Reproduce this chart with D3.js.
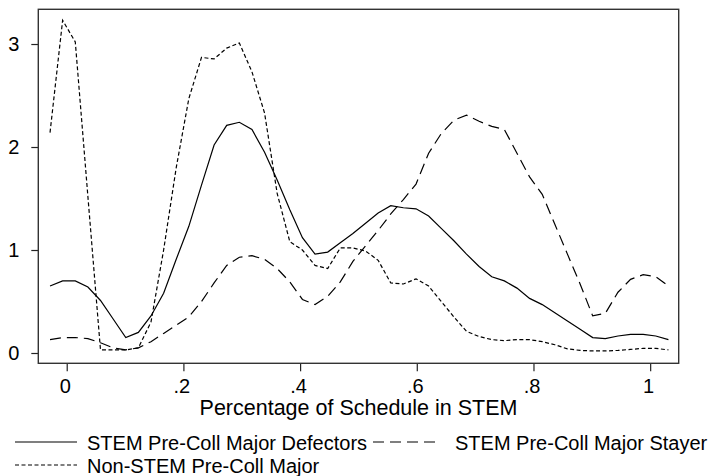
<!DOCTYPE html>
<html>
<head>
<meta charset="utf-8">
<script src="https://cdn.jsdelivr.net/npm/d3@7"></script>
<style>
  html, body { margin: 0; padding: 0; background: #fff; }
  svg { display: block; font-family: "Liberation Sans", Arial, Helvetica, sans-serif; }
</style>
</head>
<body>
<svg id="chart" width="712" height="476"></svg>
<script>
// ---- data ----
const xGrid = [-0.0286,-0.0070,0.0147,0.0363,0.0579,0.0796,0.1012,0.1228,0.1444,0.1661,
  0.1877,0.2093,0.2310,0.2526,0.2742,0.2959,0.3175,0.3391,0.3607,0.3824,
  0.4040,0.4256,0.4473,0.4689,0.4905,0.5122,0.5338,0.5554,0.5770,0.5987,
  0.6203,0.6419,0.6636,0.6852,0.7068,0.7285,0.7501,0.7717,0.7933,0.8150,
  0.8366,0.8582,0.8799,0.9015,0.9231,0.9448,0.9664,0.9880,1.0096,1.0313];

const defectors = [0.65,0.70,0.70,0.64,0.51,0.33,0.15,0.20,0.36,0.58,
  0.91,1.23,1.63,2.02,2.21,2.24,2.17,1.95,1.68,1.39,
  1.12,0.96,0.98,1.07,1.16,1.26,1.36,1.43,1.41,1.40,
  1.33,1.21,1.09,0.96,0.84,0.74,0.70,0.63,0.53,0.47,
  0.39,0.31,0.23,0.15,0.14,0.165,0.18,0.18,0.165,0.13];

const stayers = [0.13,0.15,0.15,0.14,0.10,0.05,0.03,0.05,0.11,0.19,
  0.27,0.35,0.50,0.68,0.85,0.93,0.945,0.91,0.82,0.69,
  0.52,0.47,0.55,0.69,0.89,1.04,1.19,1.35,1.49,1.64,
  1.94,2.13,2.26,2.31,2.25,2.20,2.17,1.94,1.71,1.54,
  1.25,0.96,0.67,0.36,0.385,0.59,0.715,0.76,0.74,0.65];

const nonStem = [2.14,3.23,3.02,1.52,0.03,0.03,0.03,0.05,0.30,1.00,
  1.80,2.47,2.87,2.855,2.96,3.01,2.73,2.33,1.55,1.08,
  1.00,0.85,0.82,1.02,1.02,0.99,0.90,0.68,0.67,0.72,
  0.65,0.50,0.35,0.21,0.16,0.13,0.12,0.13,0.13,0.11,
  0.08,0.04,0.025,0.02,0.02,0.025,0.035,0.045,0.045,0.03];

const xTickValues = [0, 0.2, 0.4, 0.6, 0.8, 1];
const xTickLabels = ["0", ".2", ".4", ".6", ".8", "1"];
const yTickValues = [0, 1, 2, 3];
const yTickLabels = ["0", "1", "2", "3"];
const seriesNames = ["STEM Pre-Coll Major Defectors", "STEM Pre-Coll Major Stayer", "Non-STEM Pre-Coll Major"];
const xTitle = "Percentage of Schedule in STEM";

// ---- layout ----
const plot = { left: 38.3, right: 678.7, top: 9.3, bottom: 363.3 };
const svg = d3.select("#chart");

const x = d3.scaleLinear().domain([-0.0487, 1.0489]).range([plot.left, plot.right]);
const y = d3.scaleLinear().domain([-0.1, 3.337]).range([plot.bottom, plot.top]);

const styles = [
  { dash: null },
  { dash: "11,6" },
  { dash: "4,2.5" }
];
const seriesData = [defectors, stayers, nonStem];

// axes
const yAxis = d3.axisLeft(y).tickValues(yTickValues)
  .tickFormat((d, i) => yTickLabels[i]).tickSize(7).tickPadding(12);
const gy = svg.append("g").attr("transform", `translate(${plot.left},0)`).call(yAxis);
gy.select(".domain").remove();
gy.selectAll(".tick line").attr("stroke", "#222").attr("stroke-width", 1.2);
gy.selectAll(".tick text").attr("font-size", 20).attr("fill", "#000")
  .attr("font-family", "'Liberation Sans', Arial, sans-serif");

const xAxis = d3.axisBottom(x).tickValues(xTickValues)
  .tickFormat((d, i) => xTickLabels[i]).tickSize(8).tickPadding(7.5);
const gx = svg.append("g").attr("transform", `translate(0,${plot.bottom})`).call(xAxis);
gx.select(".domain").remove();
gx.selectAll(".tick line").attr("stroke", "#222").attr("stroke-width", 1.2);
gx.selectAll(".tick text").attr("font-size", 20).attr("fill", "#000").attr("dx", -2)
  .attr("font-family", "'Liberation Sans', Arial, sans-serif");

// lines
const line = d3.line().x((d, i) => x(xGrid[i])).y(d => y(d));
seriesData.forEach((s, k) => {
  svg.append("path")
    .datum(s)
    .attr("d", line)
    .attr("fill", "none")
    .attr("stroke", "#000")
    .attr("stroke-width", 1.2)
    .attr("stroke-dasharray", styles[k].dash);
});

// frame
svg.append("rect")
  .attr("x", plot.left).attr("y", plot.top)
  .attr("width", plot.right - plot.left).attr("height", plot.bottom - plot.top)
  .attr("fill", "none").attr("stroke", "#333").attr("stroke-width", 1.4);

// axis title
svg.append("text")
  .attr("x", (plot.left + plot.right) / 2).attr("y", 415)
  .attr("text-anchor", "middle").attr("font-size", 21.5).attr("fill", "#000")
  .text(xTitle);

// legend
const legendItems = [
  { k: 0, x0: 15, x1: 77, tx: 87, y: 442 },
  { k: 1, x0: 373, x1: 439, tx: 455, y: 442 },
  { k: 2, x0: 15, x1: 77, tx: 87, y: 465 }
];
legendItems.forEach(it => {
  svg.append("line")
    .attr("x1", it.x0).attr("x2", it.x1).attr("y1", it.y).attr("y2", it.y)
    .attr("stroke", "#000").attr("stroke-width", 1.2)
    .attr("stroke-dasharray", styles[it.k].dash);
  svg.append("text")
    .attr("x", it.tx).attr("y", it.y + 7.5)
    .attr("font-size", 20).attr("fill", "#000")
    .text(seriesNames[it.k]);
});
</script>
</body>
</html>
